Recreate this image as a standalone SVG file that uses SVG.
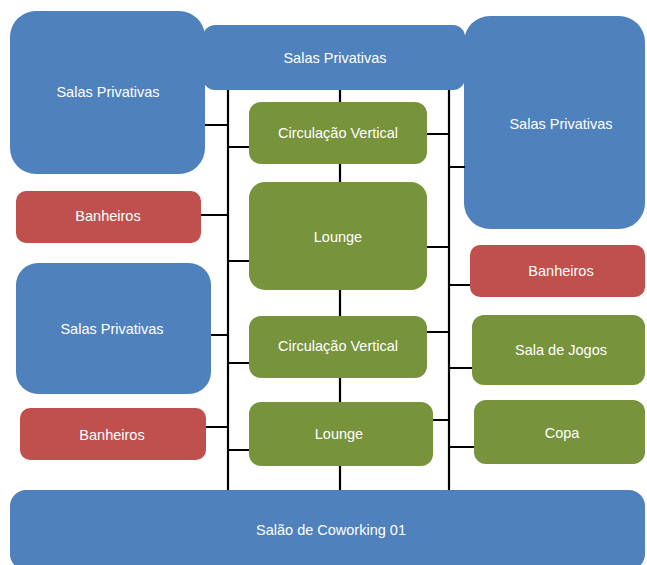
<svg xmlns="http://www.w3.org/2000/svg" width="647" height="565" viewBox="0 0 647 565">
<style>
.b{fill:#4F81BD}
.r{fill:#C0504D}
.g{fill:#77933C}
.t{fill:#fff;font-family:"Liberation Sans",Arial,sans-serif;font-size:14.5px;text-anchor:middle;dominant-baseline:central}
.c{stroke:#000;stroke-width:2.2;fill:none}
</style>
<rect width="647" height="565" fill="#fff"/>
<g id="salas-top"><rect class="b" x="203" y="25" width="262" height="65" rx="12"/><text class="t" x="335" y="58">Salas Privativas</text></g>
<g id="salas-tl"><rect class="b" x="10" y="11" width="195" height="163" rx="26"/><text class="t" x="108" y="92">Salas Privativas</text></g>
<g id="salas-tr"><rect class="b" x="464" y="16" width="181" height="213" rx="26"/><text class="t" x="561" y="124">Salas Privativas</text></g>
<g id="connectors">
<path class="c" d="M228,90V490M449,90V490M340,90V102M340,164V182M340,290V316M340,378V402M340,466V490"/>
<path class="c" d="M205,125H228M228,147H249M201,215H228M228,261H249M211,335H228M228,363H249M206,427H228M228,450H249"/>
<path class="c" d="M427,134H449M449,167H465M427,247H449M449,285H470M427,332H449M449,368H472M433,420H449M449,447H474"/>
</g>
<g id="circ1"><rect class="g" x="249" y="102" width="178" height="62" rx="12"/><text class="t" x="338" y="133">Circulação Vertical</text></g>
<g id="lounge1"><rect class="g" x="249" y="182" width="178" height="108" rx="16"/><text class="t" x="338" y="237">Lounge</text></g>
<g id="circ2"><rect class="g" x="249" y="316" width="178" height="62" rx="12"/><text class="t" x="338" y="346">Circulação Vertical</text></g>
<g id="lounge2"><rect class="g" x="249" y="402" width="184" height="64" rx="12"/><text class="t" x="339" y="434">Lounge</text></g>
<g id="banh-l1"><rect class="r" x="16" y="191" width="185" height="52" rx="10"/><text class="t" x="108" y="216">Banheiros</text></g>
<g id="salas-l2"><rect class="b" x="16" y="263" width="195" height="131" rx="22"/><text class="t" x="112" y="329">Salas Privativas</text></g>
<g id="banh-l2"><rect class="r" x="20" y="408" width="186" height="52" rx="10"/><text class="t" x="112" y="435">Banheiros</text></g>
<g id="banh-r"><rect class="r" x="470" y="245" width="175" height="52" rx="10"/><text class="t" x="561" y="271">Banheiros</text></g>
<g id="jogos"><rect class="g" x="472" y="315" width="173" height="70" rx="12"/><text class="t" x="561" y="350">Sala de Jogos</text></g>
<g id="copa"><rect class="g" x="474" y="400" width="171" height="64" rx="12"/><text class="t" x="562" y="433">Copa</text></g>
<g id="coworking"><rect class="b" x="10" y="490" width="635" height="80" rx="16"/><text class="t" x="331" y="530">Salão de Coworking 01</text></g>
</svg>
